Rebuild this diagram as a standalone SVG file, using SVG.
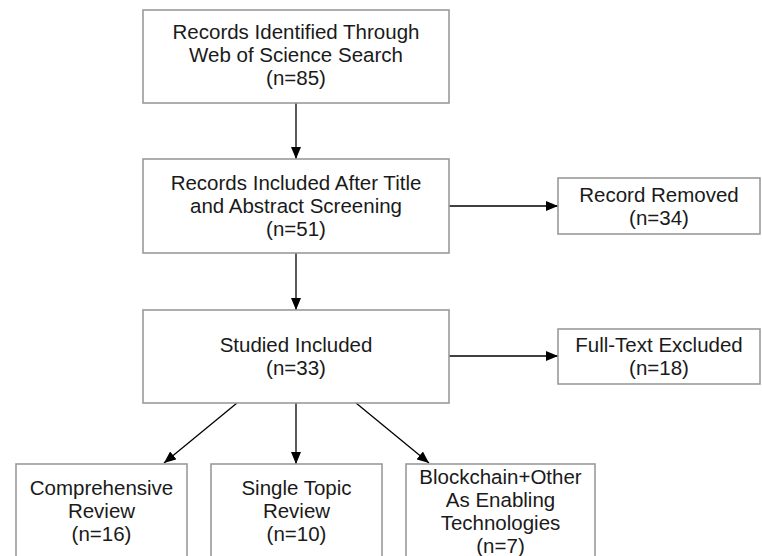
<svg xmlns="http://www.w3.org/2000/svg" width="762" height="556" viewBox="0 0 762 556">
  <style>
    .box { fill: #ffffff; stroke: #9a9a9a; stroke-width: 1.6; }
    .lbl { font-family: "Liberation Sans", Arial, Helvetica, sans-serif; font-size: 20.5px; fill: #1a1a1a; text-anchor: middle; }
    .edge { stroke: #000000; stroke-width: 1.3; fill: none; marker-end: url(#arrow); }
  </style>
  <defs>
    <marker id="arrow" viewBox="0 0 12 10" refX="12" refY="5" markerWidth="12" markerHeight="10" markerUnits="userSpaceOnUse" orient="auto">
      <path d="M0,0 L12,5 L0,10 Z" fill="#000000"/>
    </marker>
  </defs>
  <rect width="762" height="556" fill="#ffffff"/>

  <g id="connectors">
    <line class="edge" x1="296" y1="103" x2="296" y2="159"/>
    <line class="edge" x1="296" y1="253" x2="296" y2="310"/>
    <line class="edge" x1="449" y1="206" x2="558" y2="206"/>
    <line class="edge" x1="449" y1="356" x2="558" y2="356"/>
    <line class="edge" x1="237" y1="403" x2="164" y2="463"/>
    <line class="edge" x1="296" y1="403" x2="296" y2="464"/>
    <line class="edge" x1="356" y1="403" x2="429" y2="463"/>
  </g>

  <g id="identified">
    <rect class="box" x="143" y="10" width="306" height="93"/>
    <text class="lbl" x="296" y="39">Records Identified Through</text>
    <text class="lbl" x="296" y="62">Web of Science Search</text>
    <text class="lbl" x="296" y="85">(n=85)</text>
  </g>

  <g id="screened">
    <rect class="box" x="143" y="159" width="306" height="94"/>
    <text class="lbl" x="296" y="190">Records Included After Title</text>
    <text class="lbl" x="296" y="213">and Abstract Screening</text>
    <text class="lbl" x="296" y="236">(n=51)</text>
  </g>

  <g id="removed">
    <rect class="box" x="558" y="178" width="202" height="56"/>
    <text class="lbl" x="659" y="202">Record Removed</text>
    <text class="lbl" x="659" y="225">(n=34)</text>
  </g>

  <g id="included">
    <rect class="box" x="143" y="310" width="306" height="93"/>
    <text class="lbl" x="296" y="352">Studied Included</text>
    <text class="lbl" x="296" y="375">(n=33)</text>
  </g>

  <g id="excluded">
    <rect class="box" x="558" y="329" width="202" height="55"/>
    <text class="lbl" x="659" y="352">Full-Text Excluded</text>
    <text class="lbl" x="659" y="375">(n=18)</text>
  </g>

  <g id="comprehensive">
    <rect class="box" x="16" y="464" width="171" height="120"/>
    <text class="lbl" x="101.5" y="495">Comprehensive</text>
    <text class="lbl" x="101.5" y="518">Review</text>
    <text class="lbl" x="101.5" y="541">(n=16)</text>
  </g>

  <g id="single-topic">
    <rect class="box" x="211" y="464" width="171" height="120"/>
    <text class="lbl" x="296.5" y="495">Single Topic</text>
    <text class="lbl" x="296.5" y="518">Review</text>
    <text class="lbl" x="296.5" y="541">(n=10)</text>
  </g>

  <g id="blockchain-other">
    <rect class="box" x="406" y="464" width="189" height="120"/>
    <text class="lbl" x="500.5" y="484">Blockchain+Other</text>
    <text class="lbl" x="500.5" y="507">As Enabling</text>
    <text class="lbl" x="500.5" y="530">Technologies</text>
    <text class="lbl" x="500.5" y="553">(n=7)</text>
  </g>
</svg>
